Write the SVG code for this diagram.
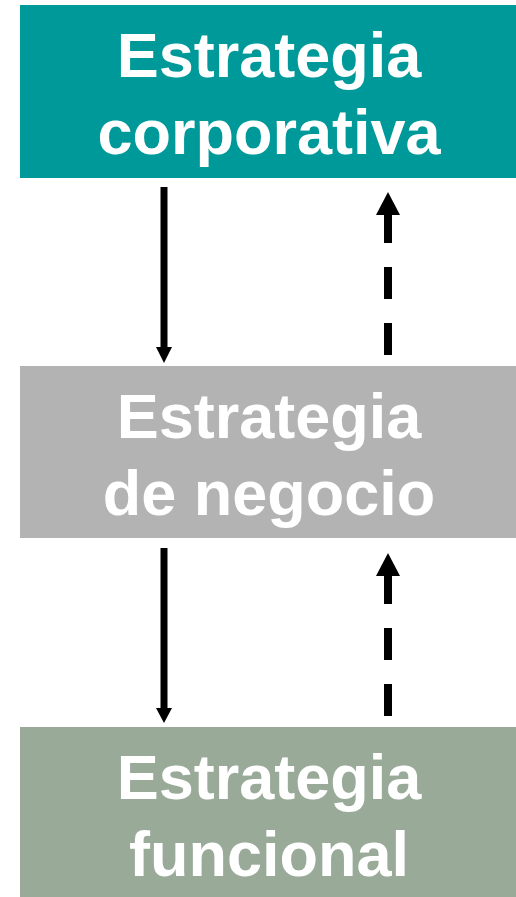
<svg xmlns="http://www.w3.org/2000/svg" width="516" height="897" viewBox="0 0 516 897">
<style>
.lbl{font-family:"Liberation Sans",Arial,sans-serif;font-weight:bold;font-size:63px;fill:#fff;text-anchor:middle}
.solid{stroke:#000;stroke-width:7;fill:none}
.dash{stroke:#000;stroke-width:8;fill:none;stroke-dasharray:32 24}
</style>
<rect width="516" height="897" fill="#fff"/>
<g id="corporativa">
<rect x="20" y="5" width="496" height="173" fill="#009999"/>
<text class="lbl" x="269" y="77">Estrategia</text>
<text class="lbl" x="269" y="154">corporativa</text>
</g>
<g id="negocio">
<rect x="20" y="366" width="496" height="172" fill="#B3B3B3"/>
<text class="lbl" x="269" y="438">Estrategia</text>
<text class="lbl" x="269" y="515">de negocio</text>
</g>
<g id="funcional">
<rect x="20" y="727" width="496" height="170" fill="#99AA99"/>
<text class="lbl" x="269" y="799">Estrategia</text>
<text class="lbl" x="269" y="876">funcional</text>
</g>
<g id="connectors">
<line class="solid" x1="164" y1="187" x2="164" y2="349"/>
<polygon points="156,347 172,347 164,363" fill="#000"/>
<line class="dash" x1="388" y1="355" x2="388" y2="213"/>
<polygon points="376,215 400,215 388,192" fill="#000"/>
<line class="solid" x1="164" y1="548" x2="164" y2="710"/>
<polygon points="156,708 172,708 164,723" fill="#000"/>
<line class="dash" x1="388" y1="716" x2="388" y2="574"/>
<polygon points="376,576 400,576 388,553" fill="#000"/>
</g>
</svg>
